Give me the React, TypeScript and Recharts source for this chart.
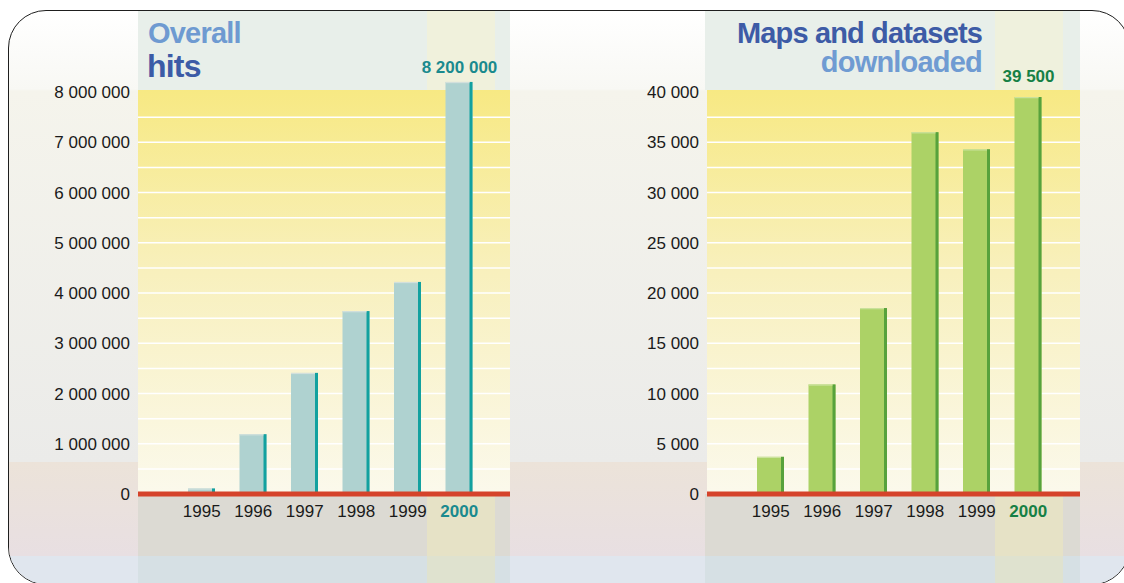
import { BarChart, Bar, XAxis, YAxis, ReferenceLine, LabelList } from 'recharts'

const FONT = '"Liberation Sans", Arial, Helvetica, sans-serif'

// shared categories
const YEARS = ['1995', '1996', '1997', '1998', '1999', '2000']

// left panel: overall hits
const HITS = [110000, 1190000, 2410000, 3640000, 4220000, 8200000]
const HITS_TICKS = [0, 1000000, 2000000, 3000000, 4000000, 5000000, 6000000, 7000000, 8000000]
const HITS_GRID = [
  500000, 1000000, 1500000, 2000000, 2500000, 3000000, 3500000, 4000000,
  4500000, 5000000, 5500000, 6000000, 6500000, 7000000, 7500000,
]

// right panel: maps and datasets downloaded
const DOWNLOADS = [3700, 10900, 18500, 36000, 34300, 39500]
const DOWNLOADS_TICKS = [0, 5000, 10000, 15000, 20000, 25000, 30000, 35000, 40000]
const DOWNLOADS_GRID = [
  2500, 5000, 7500, 10000, 12500, 15000, 17500, 20000,
  22500, 25000, 27500, 30000, 32500, 35000, 37500,
]

const fmt = (v: number) => String(v).replace(/\B(?=(\d{3})+(?!\d))/g, ' ')

const PLOT_FILL = 'linear-gradient(#f7e983 0%, #f8f0bd 45%, #fbf9ec 100%)'

// frame content box starts inside the 1.5px border
const OX = 9.5
const OY = 11.5

function Band({ x, y, w, h, bg }: { x: number; y: number; w: number; h: number; bg: string }) {
  return (
    <div
      style={{ position: 'absolute', left: x - OX, top: y - OY, width: w, height: h, background: bg }}
    />
  )
}

interface PanelProps {
  left: number
  width: number
  yAxisWidth: number
  marginRight: number
  padRight: number
  values: number[]
  ticks: number[]
  grid: number[]
  max: number
  fill: string
  edge: string
  topEdge: string
  accent: string
  labelGap: number
}

function Panel(p: PanelProps) {
  const data = YEARS.map((year, i) => ({ year, value: p.values[i] }))
  const last = data.length - 1

  const barShape = (props: any) => {
    const { x, y, width, height } = props
    if (!height || height <= 0) return <g />
    return (
      <g>
        <rect x={x} y={y} width={width} height={height} fill={p.fill} />
        <rect x={x + width - 3} y={y} width={3} height={height} fill={p.edge} />
        <rect x={x} y={y} width={width - 3} height={1.2} fill={p.topEdge} />
      </g>
    )
  }

  const topLabel = (props: any) => {
    const { x, y, width, value, index } = props
    if (index !== last) return null
    return (
      <text
        x={x + width / 2 + 0.5}
        y={y - p.labelGap}
        textAnchor="middle"
        fill={p.accent}
        fontSize={17}
        fontWeight="bold"
        fontFamily={FONT}
      >
        {fmt(value)}
      </text>
    )
  }

  const yearTick = (props: any) => {
    const year = props.payload.value
    const hot = year === YEARS[last]
    return (
      <text
        x={props.x}
        y={props.y}
        dy="0.71em"
        textAnchor="middle"
        fill={hot ? p.accent : '#1a1a1a'}
        fontWeight={hot ? 'bold' : 'normal'}
        fontSize={17}
        fontFamily={FONT}
      >
        {year}
      </text>
    )
  }

  return (
    <div style={{ position: 'absolute', left: p.left, top: 0 }}>
      <BarChart
        width={p.width}
        height={583}
        data={data}
        margin={{ top: 41.75, right: p.marginRight, bottom: 59, left: 0 }}
      >
        <XAxis
          dataKey="year"
          axisLine={false}
          tickLine={false}
          tickSize={0}
          tickMargin={11}
          height={30}
          interval={0}
          padding={{ left: 38, right: p.padRight }}
          tick={yearTick}
        />
        <YAxis
          type="number"
          domain={[0, p.max]}
          ticks={p.ticks}
          interval={0}
          width={p.yAxisWidth}
          axisLine={false}
          tickLine={false}
          tickSize={0}
          tickMargin={8}
          tickFormatter={fmt}
          tick={{ fill: '#1a1a1a', fontSize: 17, fontFamily: FONT }}
        />
        {p.grid.map((v) => (
          <ReferenceLine key={v} y={v} stroke="#ffffff" strokeWidth={1.5} zIndex={-150} />
        ))}
        <Bar dataKey="value" barSize={27} shape={barShape} isAnimationActive={false}>
          <LabelList dataKey="value" content={topLabel} />
        </Bar>
        <ReferenceLine y={0} stroke="#d5432b" strokeWidth={5} zIndex={350} />
      </BarChart>
    </div>
  )
}

export default function App() {
  return (
    <div
      style={{
        position: 'absolute',
        left: 0,
        top: 0,
        width: 1124,
        height: 583,
        overflow: 'hidden',
        background: '#ffffff',
        fontFamily: FONT,
      }}
    >
      {/* rounded frame with the background bands */}
      <div
        style={{
          position: 'absolute',
          left: 8,
          top: 10,
          width: 1122,
          height: 575,
          boxSizing: 'border-box',
          border: '1.5px solid #1e1e1e',
          borderRadius: 38,
          overflow: 'hidden',
          background: 'linear-gradient(#ffffff 0px, #f8f8f4 78px, #f5f4ec 80px, #ebebe9 452px)',
        }}
      >
        <Band x={0} y={462} w={1140} h={94} bg="linear-gradient(#ece3d9, #e8dfe2)" />
        <Band x={0} y={556} w={1140} h={40} bg="#e0e6ee" />

        {/* category columns */}
        <Band x={138} y={0} w={372} h={90} bg="#e8efea" />
        <Band x={138} y={494} w={372} h={62} bg="#dcdad3" />
        <Band x={138} y={556} w={372} h={40} bg="#d6e0e4" />
        <Band x={705} y={0} w={375} h={90} bg="#e8efea" />
        <Band x={705} y={494} w={375} h={62} bg="#dcdad3" />
        <Band x={705} y={556} w={375} h={40} bg="#d6e0e4" />

        {/* highlighted latest year */}
        <Band x={427} y={0} w={68} h={90} bg="#f0f1dc" />
        <Band x={427} y={494} w={68} h={62} bg="#e6e2c6" />
        <Band x={427} y={556} w={68} h={40} bg="#dfe2cf" />
        <Band x={995} y={0} w={68} h={90} bg="#eff1dd" />
        <Band x={995} y={494} w={68} h={62} bg="#e6e2c6" />
        <Band x={995} y={556} w={68} h={40} bg="#dfe2cf" />

        {/* plot backgrounds */}
        <Band x={138} y={90} w={372} h={404} bg={PLOT_FILL} />
        <Band x={707} y={90} w={373} h={404} bg={PLOT_FILL} />
      </div>

      <Panel
        left={0}
        width={520}
        yAxisWidth={138}
        marginRight={10}
        padRight={25}
        values={HITS}
        ticks={HITS_TICKS}
        grid={HITS_GRID}
        max={9000000}
        fill="#afd2d0"
        edge="#12a19f"
        topEdge="#d3e0dc"
        accent="#1a8a8e"
        labelGap={9}
      />
      <Panel
        left={520}
        width={604}
        yAxisWidth={187}
        marginRight={44}
        padRight={26}
        values={DOWNLOADS}
        ticks={DOWNLOADS_TICKS}
        grid={DOWNLOADS_GRID}
        max={45000}
        fill="#acd266"
        edge="#57a23c"
        topEdge="#cce29e"
        accent="#168045"
        labelGap={15}
      />

      {/* panel titles */}
      <svg
        width={1124}
        height={583}
        style={{ position: 'absolute', left: 0, top: 0, pointerEvents: 'none' }}
      >
        <g fontFamily={FONT} fontWeight="bold">
          <text x={148} y={43} fontSize={29} letterSpacing={-0.8} fill="#6e9ad1">
            Overall
          </text>
          <text x={147} y={77} fontSize={32} letterSpacing={-0.8} fill="#3b5ba6">
            hits
          </text>
          <text x={982} y={43} fontSize={29} letterSpacing={-0.85} textAnchor="end" fill="#3d5ba6">
            Maps and datasets
          </text>
          <text x={982} y={72} fontSize={29} letterSpacing={-0.8} textAnchor="end" fill="#6f9bd2">
            downloaded
          </text>
        </g>
      </svg>
    </div>
  )
}
